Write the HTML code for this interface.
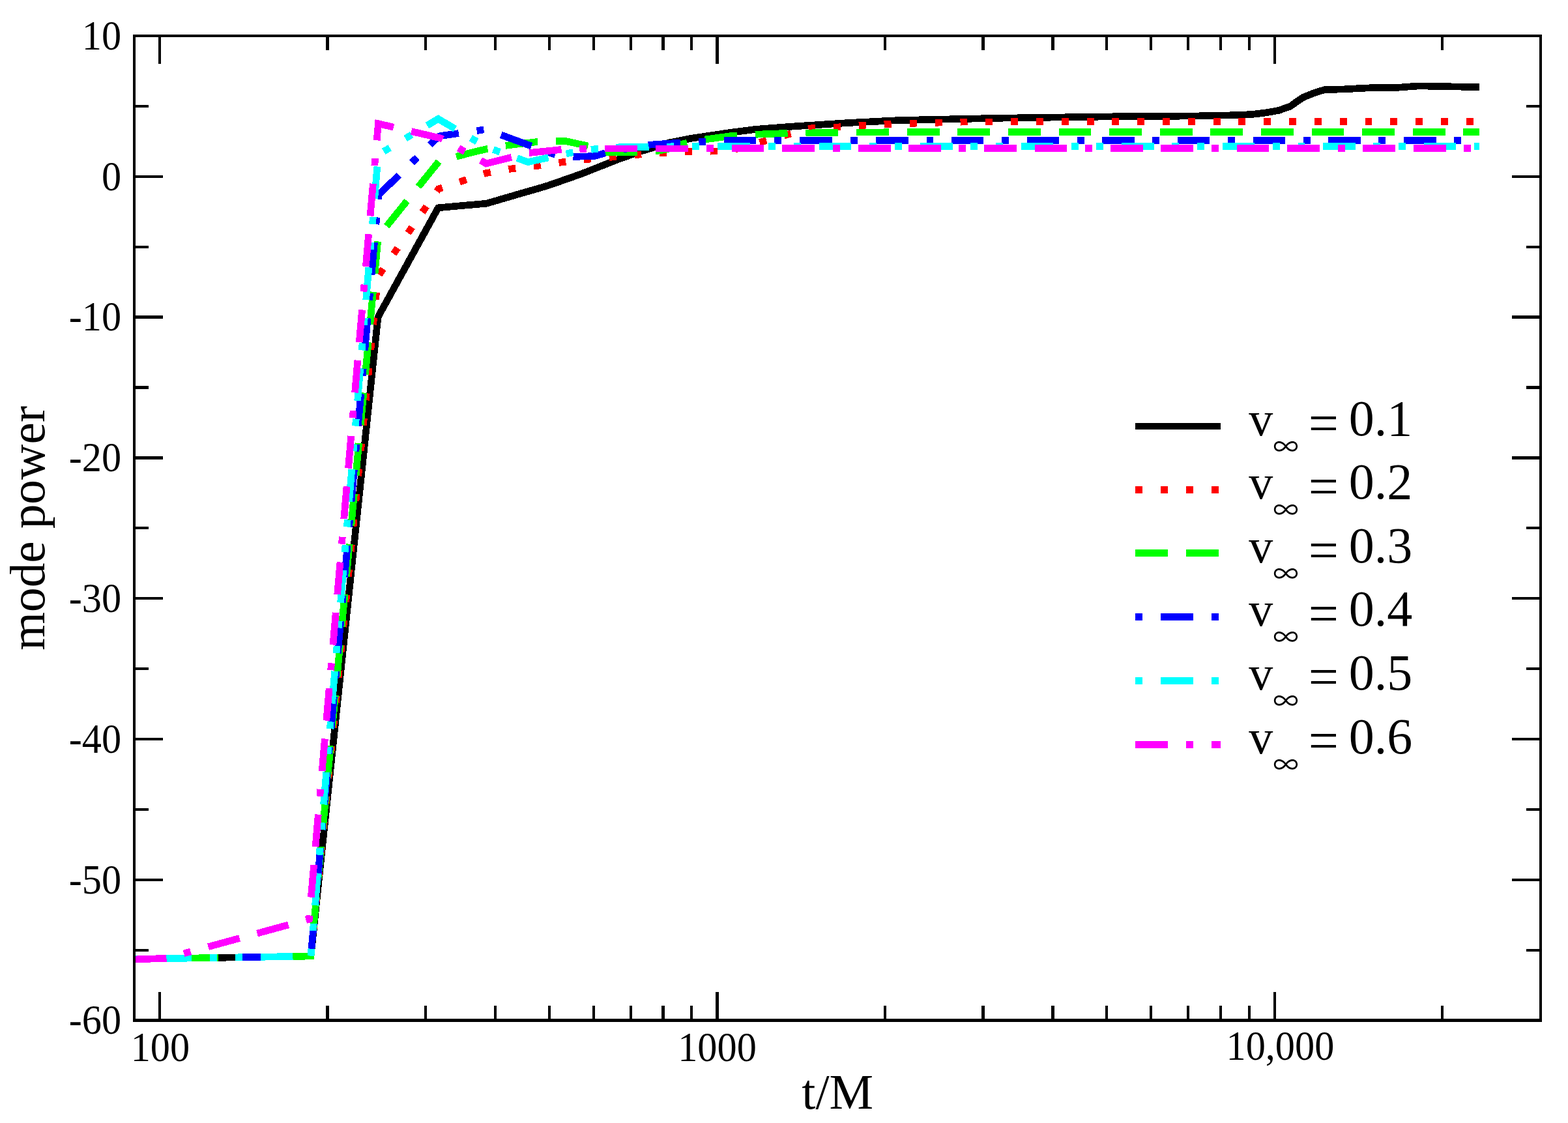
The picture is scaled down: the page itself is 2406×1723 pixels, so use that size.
<!DOCTYPE html>
<html lang="en"><head><meta charset="utf-8"><title>mode power vs t/M</title>
<style>html,body{margin:0;padding:0;background:#fff;}body{width:2406px;height:1723px;}svg{display:block;}text{font-family:"Liberation Serif","DejaVu Serif",serif;fill:#000;}</style>
</head><body>
<svg width="2406" height="1723" viewBox="0 0 2406 1723">
<rect x="0" y="0" width="2406" height="1723" fill="#ffffff"/>
<defs><clipPath id="plotclip"><rect x="206" y="55" width="2158" height="1510.5"/></clipPath></defs>
<g clip-path="url(#plotclip)" shape-rendering="crispEdges" fill="none" stroke-width="10.7" stroke-linejoin="miter" stroke-linecap="butt">
<path d="M206,1471.5 L477,1467 L580,486.5 L672.4,318.8 L746.5,312.2 L800,296.6 L840,285.05 L892.9,266.5 L945.8,245.5 L984.2,231.85 L1027.3,218.8 L1059.9,212.4 L1119.8,203.5 L1159.4,198.4 L1212.4,194.3 L1300,188.6 L1380,184.5 L1536,181.2 L1740,178.4 L1828,178.1 L1890,176.8 L1920,175.6 L1941.2,173.1 L1962.3,169.4 L1980,163.05 L1990.5,155.5 L1999.7,149.3 L2018.8,141.75 L2032.9,137.5 L2061.1,137 L2079.9,135.9 L2110.4,134.4 L2139.6,134.7 L2176.7,131.9 L2203,132.4 L2270,133.7" stroke="#000000"/>
<path d="M206,1471.5 L477,1467 L580,424 L673,289.7 L746,265.6 L786,258.8 L824.6,254.4 L862.6,248.8 L901.4,244.5 L940.3,241 L979.1,237.3 L1017.4,234.5 L1056.2,232.6 L1095.5,232.1 L1118,232 L1171.4,216.9 L1209,206.3 L1248,196 L1284.6,195 L1323.6,192.4 L1362.7,190.4 L1391.6,189.56" stroke="#ff0000" stroke-dasharray="10.96 27.89" stroke-dashoffset="-1.38"/>
<path d="M1391.6,189.56 L1480,187 L1700,186.4 L2261,186.4" stroke="#ff0000" stroke-dasharray="10.95 27.86" stroke-dashoffset="34.44"/>
<path d="M206,1471.5 L477,1467 L580.4,362.9 L673.7,247.3 L720,235 L748.1,228.2 L775.3,223.4 L824.8,217.5 L852.9,216.4 L867.4,216.4 L902.4,224 L928,233.5 L978,233.5 L1006.7,232 L1027,228 L1049,220.4 L1081,214.1 L1120,208.8 L1159,206.3 L1209,204.3 L1300,203.2 L1387.5,202.67" stroke="#00ff00" stroke-dasharray="49.83 27.89" stroke-dashoffset="-1.38"/>
<path d="M1387.5,202.67 L1400,202.6 L2270,202.4" stroke="#00ff00" stroke-dasharray="49.75 27.85" stroke-dashoffset="73.22"/>
<path d="M206,1471.5 L477,1467 L581,299 L673.7,208.9 L745.6,198.5 L814.6,223.8 L857,239.2 L880,240.4 L912,239.6 L929.5,234.5 L957,229 L994,222.4 L1043.6,219 L1077,217.5 L1110,215.8 L1455.6,215.8" stroke="#0000ff" stroke-dasharray="10.96 27.89 49.83 27.89" stroke-dashoffset="0.62"/>
<path d="M1455.6,215.8 L2270,215.8" stroke="#0000ff" stroke-dasharray="10.89 27.67 49.45 27.67" stroke-dashoffset="34.19"/>
<path d="M206,1471.5 L477,1467 L580.4,237.4 L672.4,182.4 L746,225.6 L810.2,248.6 L880,233.5 L912.5,228.7 L950,225.8 L1000,225.2 L1068.5,224.4 L1407.6,224.46" stroke="#00ffff" stroke-dasharray="10.96 27.89 49.83 27.89 10.96 27.89" stroke-dashoffset="0.62"/>
<path d="M1407.6,224.46 L2270,224.6" stroke="#00ffff" stroke-dasharray="10.91 27.73 49.55 27.73 10.91 27.73" stroke-dashoffset="34.27"/>
<path d="M206,1472 L255,1470.3 L474.4,1410.3 L580.4,189.7 L676,212 L746.2,251 L812,234.5 L866,229 L900,228.2 L950,228 L1060,228 L1100,227.6 L1389.5,227.6" stroke="#ff00ff" stroke-dasharray="49.83 27.89 10.96 27.89 49.83 27.89" stroke-dashoffset="0.62"/>
<path d="M1389.5,227.6 L2270,227.6" stroke="#ff00ff" stroke-dasharray="49.69 27.81 10.94 27.81 49.69 27.81" stroke-dashoffset="189.39"/>
</g>
<path d="M204,53H2366V57H204Z M204,1563H2366V1568H204Z M204,53H208V1568H204Z M2362,53H2366V1568H2362Z M243,55H247V98H243Z M243,1522H247V1566H243Z M500,55H505V77H500Z M500,1543H505V1566H500Z M651,55H655V77H651Z M651,1543H655V1566H651Z M758,55H762V77H758Z M758,1543H762V1566H758Z M841,55H845V77H841Z M841,1543H845V1566H841Z M909,55H913V77H909Z M909,1543H913V1566H909Z M966,55H970V77H966Z M966,1543H970V1566H966Z M1015,55H1020V77H1015Z M1015,1543H1020V1566H1015Z M1059,55H1063V77H1059Z M1059,1543H1063V1566H1059Z M1098,55H1103V98H1098Z M1098,1522H1103V1566H1098Z M1356,55H1360V77H1356Z M1356,1543H1360V1566H1356Z M1506,55H1511V77H1506Z M1506,1543H1511V1566H1506Z M1613,55H1618V77H1613Z M1613,1543H1618V1566H1613Z M1696,55H1700V77H1696Z M1696,1543H1700V1566H1696Z M1764,55H1768V77H1764Z M1764,1543H1768V1566H1764Z M1821,55H1825V77H1821Z M1821,1543H1825V1566H1821Z M1871,55H1875V77H1871Z M1871,1543H1875V1566H1871Z M1915,55H1919V77H1915Z M1915,1543H1919V1566H1915Z M1954,55H1958V98H1954Z M1954,1522H1958V1566H1954Z M2211,55H2215V77H2211Z M2211,1543H2215V1566H2211Z M206,1456H228V1460H206Z M2342,1456H2364V1460H2342Z M206,1348H250V1352H206Z M2320,1348H2364V1352H2320Z M206,1240H228V1244H206Z M2342,1240H2364V1244H2342Z M206,1132H250V1136H206Z M2320,1132H2364V1136H2320Z M206,1024H228V1028H206Z M2342,1024H2364V1028H2342Z M206,916H250V920H206Z M2320,916H2364V920H2320Z M206,808H228V812H206Z M2342,808H2364V812H2342Z M206,700H250V705H206Z M2320,700H2364V705H2320Z M206,592H228V597H206Z M2342,592H2364V597H2342Z M206,484H250V489H206Z M2320,484H2364V489H2320Z M206,377H228V381H206Z M2342,377H2364V381H2342Z M206,269H250V273H206Z M2320,269H2364V273H2320Z M206,161H228V165H206Z M2342,161H2364V165H2342Z" fill="#000" shape-rendering="crispEdges"/>
<g font-size="60.3">
<text transform="translate(186.1,75.9) scale(1,1.05)" text-anchor="end">10</text>
<text transform="translate(186.1,291.69) scale(1,1.05)" text-anchor="end">0</text>
<text transform="translate(186.1,507.49) scale(1,1.05)" text-anchor="end">-10</text>
<text transform="translate(186.1,723.28) scale(1,1.05)" text-anchor="end">-20</text>
<text transform="translate(186.1,939.07) scale(1,1.05)" text-anchor="end">-30</text>
<text transform="translate(186.1,1154.87) scale(1,1.05)" text-anchor="end">-40</text>
<text transform="translate(186.1,1370.66) scale(1,1.05)" text-anchor="end">-50</text>
<text transform="translate(186.1,1586.45) scale(1,1.05)" text-anchor="end">-60</text>
<text transform="translate(245.9,1628.3) scale(1,1.05)" text-anchor="middle">100</text>
<text transform="translate(1100.5,1628.3) scale(1,1.05)" text-anchor="middle">1000</text>
<text transform="translate(1964.4,1625.5) scale(1,1.05)" text-anchor="middle">10,000</text>
</g>
<text x="1285.2" y="1701.1" font-size="76" text-anchor="middle">t/M</text>
<text transform="translate(68,810.3) rotate(-90)" font-size="75.4" text-anchor="middle">mode power</text>
<g shape-rendering="crispEdges" fill="none" stroke-linecap="butt" stroke-width="10.7">
<path d="M1741.9,654 H1873.1" stroke="#000000"/>
<path d="M1741.9,751.5 H1873.1" stroke="#ff0000" stroke-dasharray="11 28"/>
<path d="M1741.9,848.5 H1873.1" stroke="#00ff00" stroke-dasharray="50 28"/>
<path d="M1741.9,946.5 H1873.1" stroke="#0000ff" stroke-dasharray="11 28 50 28"/>
<path d="M1741.9,1044.5 H1873.1" stroke="#00ffff" stroke-dasharray="11 28 50 28 11 28"/>
<path d="M1741.9,1142.5 H1873.1" stroke="#ff00ff" stroke-dasharray="50 28 11 28 50 28"/>
</g>
<g font-size="78">
<text x="1916.3" y="668"><tspan font-size="74">v</tspan><tspan x="1953.4" dy="31" font-size="39" font-family="'Noto Sans CJK JP','Liberation Serif',serif">∞ </tspan><tspan x="2007.8" dy="-22.5" font-size="82">= </tspan><tspan x="2069.7" dy="-8.5">0.1</tspan></text>
<text x="1916.3" y="765.2"><tspan font-size="74">v</tspan><tspan x="1953.4" dy="31" font-size="39" font-family="'Noto Sans CJK JP','Liberation Serif',serif">∞ </tspan><tspan x="2007.8" dy="-22.5" font-size="82">= </tspan><tspan x="2069.7" dy="-8.5">0.2</tspan></text>
<text x="1916.3" y="863"><tspan font-size="74">v</tspan><tspan x="1953.4" dy="31" font-size="39" font-family="'Noto Sans CJK JP','Liberation Serif',serif">∞ </tspan><tspan x="2007.8" dy="-22.5" font-size="82">= </tspan><tspan x="2069.7" dy="-8.5">0.3</tspan></text>
<text x="1916.3" y="960.3"><tspan font-size="74">v</tspan><tspan x="1953.4" dy="31" font-size="39" font-family="'Noto Sans CJK JP','Liberation Serif',serif">∞ </tspan><tspan x="2007.8" dy="-22.5" font-size="82">= </tspan><tspan x="2069.7" dy="-8.5">0.4</tspan></text>
<text x="1916.3" y="1057.9"><tspan font-size="74">v</tspan><tspan x="1953.4" dy="31" font-size="39" font-family="'Noto Sans CJK JP','Liberation Serif',serif">∞ </tspan><tspan x="2007.8" dy="-22.5" font-size="82">= </tspan><tspan x="2069.7" dy="-8.5">0.5</tspan></text>
<text x="1916.3" y="1155.9"><tspan font-size="74">v</tspan><tspan x="1953.4" dy="31" font-size="39" font-family="'Noto Sans CJK JP','Liberation Serif',serif">∞ </tspan><tspan x="2007.8" dy="-22.5" font-size="82">= </tspan><tspan x="2069.7" dy="-8.5">0.6</tspan></text>
</g>
</svg>
</body></html>
